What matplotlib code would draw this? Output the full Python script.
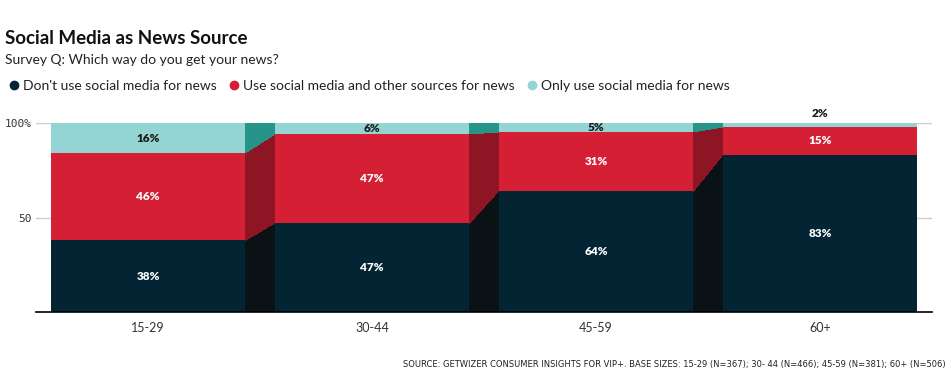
import numpy as np
import matplotlib.pyplot as plt
from matplotlib.lines import Line2D
from matplotlib.patches import Polygon

plt.rcParams['font.family'] = ['Lato', 'DejaVu Sans']

groups = ["15-29", "30-44", "45-59", "60+"]
dont_use = [38, 47, 64, 83]
use_both = [46, 47, 31, 15]
only_social = [16, 6, 5, 2]

series_names = ["Don't use social media for news",
                "Use social media and other sources for news",
                "Only use social media for news"]
colors = ["#022433", "#d51f35", "#93d5d2"]
dark_colors = ["#0a1215", "#8e1624", "#279489"]
label_colors = ["white", "white", "#1a1a1a"]

fig = plt.figure(figsize=(9.52, 3.91), dpi=100)
ax = fig.add_axes([36 / 952, 1 - 312 / 391, 896 / 952, 189 / 391])

x = np.arange(len(groups))
w = 0.87
series = [dont_use, use_both, only_social]

bottoms = np.zeros(len(groups))
tops_all = []
for vals, c, lc in zip(series, colors, label_colors):
    vals = np.array(vals, dtype=float)
    ax.bar(x, vals, w, bottom=bottoms, color=c, zorder=2, linewidth=0, antialiased=False)
    for i, v in enumerate(vals):
        if v >= 4:
            ypos = bottoms[i] + v / 2
            col = lc
        else:
            ypos = bottoms[i] + v + 5
            col = "#1a1a1a"
        ax.text(x[i], ypos, f"{int(v)}%", ha="center", va="center",
                color=col, fontsize=8.5, fontweight="heavy", zorder=4)
    tops_all.append((bottoms.copy(), bottoms + vals))
    bottoms = bottoms + vals

# connector polygons between bars
for (b, t), dc in zip(tops_all, dark_colors):
    for i in range(len(groups) - 1):
        xr = x[i] + w / 2
        xl = x[i + 1] - w / 2
        poly = Polygon([(xr, b[i]), (xr, t[i]), (xl, t[i + 1]), (xl, b[i + 1])],
                       closed=True, facecolor=dc, edgecolor="none", zorder=2,
                       antialiased=False)
        ax.add_patch(poly)

ax.set_xlim(-0.5, 3.5)
ax.set_ylim(0, 100)
ax.set_yticks([50, 100])
ax.set_yticklabels(["50", "100%"], family="DejaVu Sans Mono", fontsize=8, color="#333333")
ax.set_xticks(x)
ax.set_xticklabels(groups, fontsize=9, color="#333333")
ax.tick_params(axis="y", length=0, pad=3)
ax.tick_params(axis="x", length=0, pad=7)
ax.grid(axis="y", color="#cccccc", linewidth=1, zorder=0)
for s in ["top", "right", "left"]:
    ax.spines[s].set_visible(False)
ax.spines["bottom"].set_color("black")
ax.spines["bottom"].set_linewidth(1.2)
ax.spines["bottom"].set_zorder(5)

fig.text(5 / 952, 1 - 38 / 391, "Social Media as News Source", fontsize=13.5,
         fontweight="bold", va="center", ha="left", color="#111111")
fig.text(5 / 952, 1 - 60 / 391, "Survey Q: Which way do you get your news?", fontsize=10,
         va="center", ha="left", color="#222222")

handles = [Line2D([0], [0], marker="o", linestyle="", markersize=6,
                  markerfacecolor=c, markeredgecolor=c) for c in colors]
fig.legend(handles, series_names, loc="center left",
           bbox_to_anchor=(-2 / 952, 1 - 86 / 391), ncol=3, frameon=False,
           fontsize=10, handlelength=0.5, handletextpad=0.4, columnspacing=1.0,
           labelcolor="#222222")

fig.text(946 / 952, 1 - 365 / 391,
         "SOURCE: GETWIZER CONSUMER INSIGHTS FOR VIP+. BASE SIZES: 15-29 (N=367); 30- 44 (N=466); 45-59 (N=381); 60+ (N=506)",
         fontsize=6, family=["Liberation Sans Narrow", "DejaVu Sans"], ha="right", va="center",
         color="#222222")

fig.savefig("out.png", dpi=100)
